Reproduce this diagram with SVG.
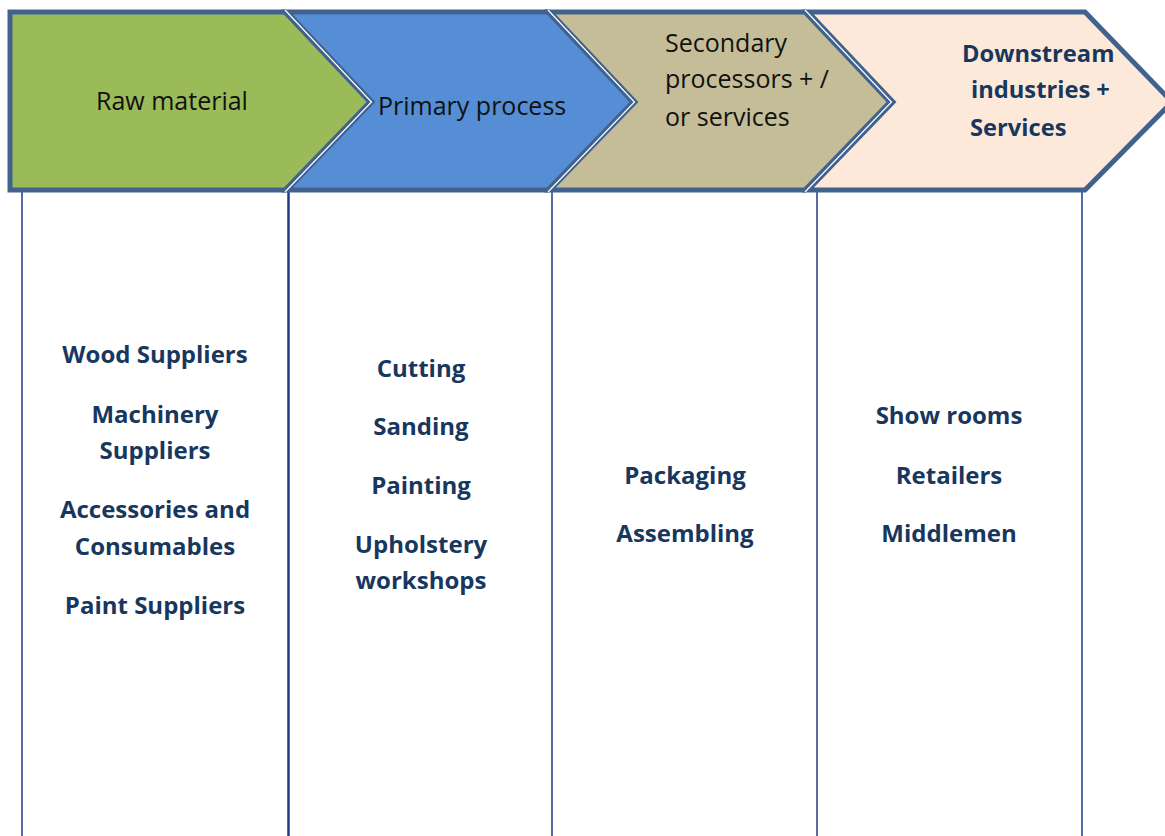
<svg xmlns="http://www.w3.org/2000/svg" width="1165" height="836" viewBox="0 0 1165 836">
<style>
.chev{stroke:#41628f;stroke-width:5;stroke-linejoin:miter}
.hi{fill:none;stroke:#ffffff;stroke-width:1.2}
.col{stroke:#1f3a8a;stroke-width:1.5}
.hd{font-family:"Open Sans","Liberation Sans",sans-serif;font-size:25px;fill:#111111}
.hdb{font-family:"Open Sans","Liberation Sans",sans-serif;font-size:23.7px;font-weight:bold;fill:#17375e}
.it{font-family:"Open Sans","Liberation Sans",sans-serif;font-size:24px;font-weight:bold;fill:#17375e;text-anchor:middle}
</style>
<rect width="1165" height="836" fill="#ffffff"/>
<g id="connectors">
<line class="col" x1="22" y1="192" x2="22" y2="836"/>
<line class="col" x1="288.5" y1="192" x2="288.5" y2="836" style="stroke-width:2.5"/>
<line class="col" x1="552" y1="192" x2="552" y2="836"/>
<line class="col" x1="817" y1="192" x2="817" y2="836"/>
<line class="col" x1="1082" y1="192" x2="1082" y2="836"/>
</g>
<g id="downstream">
<path class="chev" fill="#fde9d9" d="M808,12 L1085,12 L1172,102 L1085,190 L808,190 L893,102 Z"/>
<text class="hdb" x="962" y="62">Downstream</text>
<text class="hdb" x="971" y="98">industries +</text>
<text class="hdb" x="970" y="136">Services</text>
</g>
<g id="secondary">
<path class="chev" fill="#c4bd97" d="M550,12 L805,12 L890,102 L805,190 L550,190 L635,102 Z"/>
<text class="hd" x="665" y="52">Secondary</text>
<text class="hd" x="665" y="88">processors + /</text>
<text class="hd" x="665" y="126">or services</text>
</g>
<g id="primary">
<path class="chev" fill="#558ed5" d="M287,12 L548,12 L633,102 L548,190 L287,190 L372,102 Z"/>
<text class="hd" x="378" y="115">Primary process</text>
</g>
<g id="raw">
<path class="chev" fill="#9bbb59" d="M10,12 L285,12 L370,102 L285,190 L10,190 Z"/>
<text class="hd" x="96" y="110">Raw material</text>
</g>
<g id="highlights">
<path class="hi" d="M285,10 L371.5,102 L285,192"/>
<path class="hi" d="M548,10 L634.5,102 L548,192"/>
<path class="hi" d="M805,10 L891.5,102 L805,192"/>
</g>
<g id="col1">
<text class="it" x="155" y="363">Wood Suppliers</text>
<text class="it" x="155" y="423">Machinery</text>
<text class="it" x="155" y="459">Suppliers</text>
<text class="it" x="155" y="518">Accessories and</text>
<text class="it" x="155" y="555">Consumables</text>
<text class="it" x="155" y="614">Paint Suppliers</text>
</g>
<g id="col2">
<text class="it" x="421" y="377">Cutting</text>
<text class="it" x="421" y="435">Sanding</text>
<text class="it" x="421" y="494">Painting</text>
<text class="it" x="421" y="553">Upholstery</text>
<text class="it" x="421" y="589">workshops</text>
</g>
<g id="col3">
<text class="it" x="685" y="484">Packaging</text>
<text class="it" x="685" y="542">Assembling</text>
</g>
<g id="col4">
<text class="it" x="949" y="424">Show rooms</text>
<text class="it" x="949" y="484">Retailers</text>
<text class="it" x="949" y="542">Middlemen</text>
</g>
</svg>
